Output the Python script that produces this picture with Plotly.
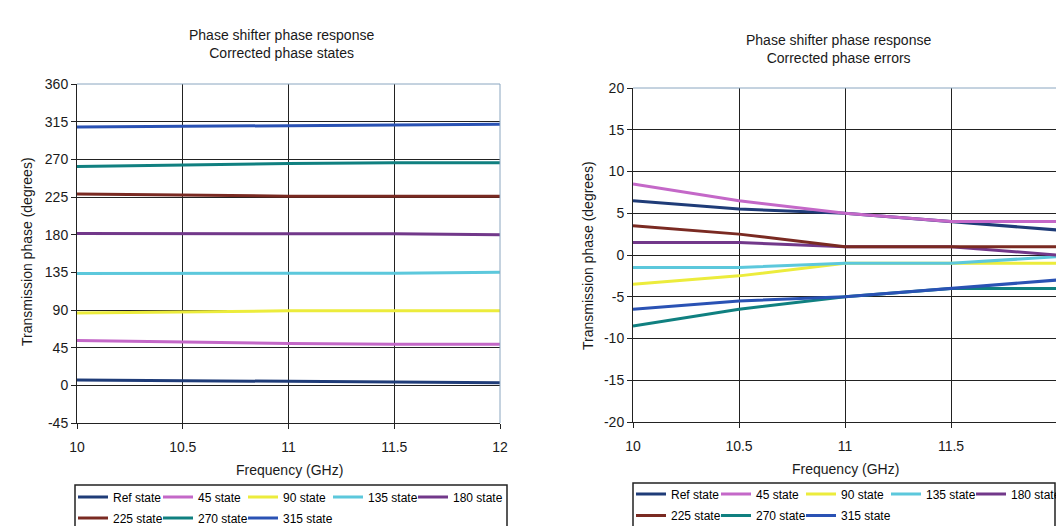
import plotly.graph_objects as go

# ---------------- data ----------------
freq = [10, 10.5, 11, 11.5, 12]
series_names = ["Ref state", "45 state", "90 state", "135 state", "180 state",
                "225 state", "270 state", "315 state"]
colors = ["#1f3c78", "#c468c8", "#ecec3c", "#5cc8dc", "#72388a",
          "#7a2a22", "#108080", "#2a52b4"]

# Corrected phase states (degrees)
ref_state = [6.5, 5.5, 5.0, 4.0, 3.0]
s45_state = [53.5, 51.5, 50.0, 49.0, 49.0]
s90_state = [86.5, 87.5, 89.0, 89.0, 89.0]
s135_state = [133.5, 133.5, 134.0, 134.0, 135.0]
s180_state = [181.5, 181.5, 181.0, 181.0, 180.0]
s225_state = [228.5, 227.5, 226.0, 226.0, 226.0]
s270_state = [261.5, 263.5, 265.0, 266.0, 266.0]
s315_state = [308.5, 309.5, 310.0, 311.0, 312.0]

# Corrected phase errors (degrees)
ref_err = [6.5, 5.5, 5.0, 4.0, 3.0]
s45_err = [8.5, 6.5, 5.0, 4.0, 4.0]
s90_err = [-3.5, -2.5, -1.0, -1.0, -1.0]
s135_err = [-1.5, -1.5, -1.0, -1.0, -0.2]
s180_err = [1.5, 1.5, 1.0, 1.0, 0.0]
s225_err = [3.5, 2.5, 1.0, 1.0, 1.0]
s270_err = [-8.5, -6.5, -5.0, -4.0, -4.0]
s315_err = [-6.5, -5.5, -5.0, -4.0, -3.0]

states = [ref_state, s45_state, s90_state, s135_state, s180_state,
          s225_state, s270_state, s315_state]
errors = [ref_err, s45_err, s90_err, s135_err, s180_err,
          s225_err, s270_err, s315_err]

x_ticks = [10, 10.5, 11, 11.5, 12]
x_ticktext = ["10", "10.5", "11", "11.5", "12"]
y1_ticks = [-45, 0, 45, 90, 135, 180, 225, 270, 315, 360]
y1_ticktext = ["-45", "0", "45", "90", "135", "180", "225", "270", "315", "360"]
y2_ticks = [-20, -15, -10, -5, 0, 5, 10, 15, 20]
y2_ticktext = ["-20", "-15", "-10", "-5", "0", "5", "10", "15", "20"]

# ---------------- figure ----------------
# the page body has an 8px margin, so the figure is drawn 8px in from the corner
OFF = 8
W, H = 1064 - OFF, 526 - OFF
FONT = "Liberation Sans, Arial, sans-serif"
TXT = "#1a1a1a"

def px_x(p):
    return (p - OFF) / W

def px_y(p):
    return 1 - (p - OFF) / H

fig = go.Figure()

for i, (name, col) in enumerate(zip(series_names, colors)):
    fig.add_trace(go.Scatter(
        x=freq, y=states[i], name=name, mode="lines",
        line=dict(color=col, width=3),
        xaxis="x", yaxis="y",
        legend="legend" if i < 5 else "legend2",
        legendwidth=60 if i in (4, 7) else None,
    ))
for i, (name, col) in enumerate(zip(series_names, colors)):
    fig.add_trace(go.Scatter(
        x=freq, y=errors[i], name=name, mode="lines",
        line=dict(color=col, width=3),
        xaxis="x2", yaxis="y2",
        legend="legend3" if i < 5 else "legend4",
        legendwidth=60 if i in (4, 7) else None,
    ))

L_dom = [px_x(77), px_x(500)]
L_ydom = [px_y(423), px_y(84)]
R_dom = [px_x(633), px_x(1057)]
R_ydom = [px_y(422), px_y(88)]

axis_common = dict(
    showgrid=True, gridcolor="#222222", gridwidth=1,
    showline=True, linecolor="#222222", linewidth=1,
    ticks="outside", ticklen=5, tickcolor="#222222",
    tickfont=dict(family=FONT, size=14, color=TXT),
    zeroline=False, automargin=False,
)

legend_common = dict(
    orientation="h", xanchor="left", yanchor="middle",
    font=dict(family=FONT, size=12, color="#000000"),
    bgcolor="rgba(0,0,0,0)", borderwidth=0,
    entrywidth=40, entrywidthmode="pixels",
    tracegroupgap=0, itemclick=False,
)

fig.update_layout(
    width=W, height=H,
    margin=dict(l=0, r=0, t=0, b=0, autoexpand=False),
    paper_bgcolor="white", plot_bgcolor="white",
    font=dict(family=FONT, size=14, color=TXT),
    showlegend=True,
    xaxis=dict(domain=L_dom, range=[10, 12], tickvals=x_ticks, ticktext=x_ticktext,
               anchor="y", ticklabelstandoff=6, **axis_common),
    yaxis=dict(domain=L_ydom, range=[-45, 360], tickvals=y1_ticks, ticktext=y1_ticktext,
               anchor="x", **axis_common),
    xaxis2=dict(domain=R_dom, range=[10, 12], tickvals=x_ticks, ticktext=x_ticktext,
                anchor="y2", ticklabelstandoff=6, **axis_common),
    yaxis2=dict(domain=R_ydom, range=[-20, 20], tickvals=y2_ticks, ticktext=y2_ticktext,
                anchor="x2", **axis_common),
    legend=dict(x=px_x(73), y=px_y(497), **legend_common),
    legend2=dict(x=px_x(73), y=px_y(518), **legend_common),
    legend3=dict(x=px_x(631), y=px_y(494), **legend_common),
    legend4=dict(x=px_x(631), y=px_y(515.5), **legend_common),
)

def txt(text, x, y, angle=0):
    fig.add_annotation(text=text, x=px_x(x), y=px_y(y), xref="paper", yref="paper",
                       showarrow=False, xanchor="center", yanchor="middle", textangle=angle,
                       font=dict(family=FONT, size=14, color=TXT))

# titles
txt("Phase shifter phase response<br>Corrected phase states", 281, 43.5)
txt("Phase shifter phase response<br>Corrected phase errors", 838.5, 49)
# axis titles
txt("Frequency (GHz)", 289, 470)
txt("Frequency (GHz)", 845, 469)
txt("Transmission phase (degrees)", 27, 252, -90)
txt("Transmission phase (degrees)", 588, 256, -90)

# plot-area top/right borders
border_col = "#8aa6c0"
for xr in ("x", "x2"):
    yr = "y" if xr == "x" else "y2"
    fig.add_shape(type="line", xref=f"{xr} domain", yref=f"{yr} domain",
                  x0=0, x1=1, y0=1, y1=1, line=dict(color=border_col, width=1), layer="above")
    fig.add_shape(type="line", xref=f"{xr} domain", yref=f"{yr} domain",
                  x0=1, x1=1, y0=0, y1=1, line=dict(color=border_col, width=1), layer="above")

# legend boxes
fig.add_shape(type="rect", xref="paper", yref="paper",
              x0=px_x(75), x1=px_x(507), y0=px_y(545), y1=px_y(485),
              line=dict(color="#222222", width=1.5), fillcolor="rgba(0,0,0,0)", layer="below")
fig.add_shape(type="rect", xref="paper", yref="paper",
              x0=px_x(633), x1=px_x(1055), y0=px_y(545), y1=px_y(483),
              line=dict(color="#222222", width=1.5), fillcolor="rgba(0,0,0,0)", layer="below")

fig.write_html("out.html")
